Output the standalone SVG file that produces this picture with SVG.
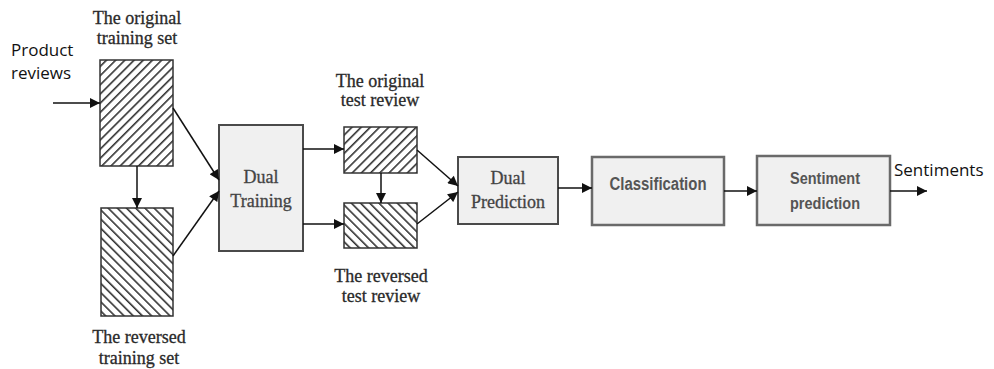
<svg xmlns="http://www.w3.org/2000/svg" width="994" height="369" viewBox="0 0 994 369">
<style>
.lbl{font-family:"Liberation Serif","Times New Roman",serif;font-size:18px;fill:#2a2a2a;stroke:#2a2a2a;stroke-width:0.3;text-anchor:middle}
.io{font-family:"Open Sans","Liberation Sans",sans-serif;font-size:17px;fill:#111}
.hat{stroke:#333;stroke-width:1.5}
.box{fill:#f0f0f0;stroke:#4a4a4a;stroke-width:2}
.box2{fill:#f0f0f0;stroke:#6a6a6a;stroke-width:2.5}
.bt{font-family:"Liberation Serif","Times New Roman",serif;font-size:18px;fill:#444;stroke:#444;stroke-width:0.3;text-anchor:middle}
.bs{font-family:"Liberation Sans",Arial,sans-serif;font-weight:bold;fill:#555;text-anchor:middle}
.con line{stroke:#111;stroke-width:1.5;marker-end:url(#ah)}
</style>
<defs>
<marker id="ah" viewBox="0 0 10 10" refX="10" refY="5" markerWidth="11" markerHeight="10" markerUnits="userSpaceOnUse" orient="auto">
<path d="M0,0 L10,5 L0,10 z" fill="#111"/>
</marker>
<pattern id="fwd" patternUnits="userSpaceOnUse" width="6.5" height="6.5" patternTransform="rotate(45)">
<rect width="6.5" height="6.5" fill="#fff"/>
<line x1="0" y1="0" x2="0" y2="6.5" stroke="#333" stroke-width="3.2"/>
</pattern>
<pattern id="bwd" patternUnits="userSpaceOnUse" width="6.5" height="6.5" patternTransform="rotate(-45)">
<rect width="6.5" height="6.5" fill="#fff"/>
<line x1="0" y1="0" x2="0" y2="6.5" stroke="#333" stroke-width="3.2"/>
</pattern>
</defs>
<rect width="994" height="369" fill="#fff"/>

<g id="product-reviews">
<text class="io" x="11" y="56">Product</text>
<text class="io" x="11" y="79">reviews</text>
</g>

<g id="orig-train">
<text class="lbl" x="137" y="24">The original</text>
<text class="lbl" x="137" y="44">training set</text>
<rect x="100" y="60" width="73" height="106" fill="url(#fwd)" class="hat"/>
</g>

<g id="rev-train">
<rect x="101" y="208" width="72" height="108" fill="url(#bwd)" class="hat"/>
<text class="lbl" x="139" y="343">The reversed</text>
<text class="lbl" x="139" y="364">training set</text>
</g>

<g id="dual-training">
<rect x="219" y="125" width="84" height="126" class="box"/>
<text class="bt" x="261" y="183">Dual</text>
<text class="bt" x="261" y="207">Training</text>
</g>

<g id="orig-test">
<text class="lbl" x="380" y="87">The original</text>
<text class="lbl" x="380" y="106">test review</text>
<rect x="344" y="127" width="73" height="46" fill="url(#fwd)" class="hat"/>
</g>

<g id="rev-test">
<rect x="344" y="203" width="73" height="45" fill="url(#bwd)" class="hat"/>
<text class="lbl" x="381" y="282">The reversed</text>
<text class="lbl" x="381" y="302">test review</text>
</g>

<g id="dual-prediction">
<rect x="458" y="157" width="100" height="67" class="box"/>
<text class="bt" x="508" y="184">Dual</text>
<text class="bt" x="508" y="208">Prediction</text>
</g>

<g id="classification">
<rect x="592" y="157" width="132" height="68" class="box2"/>
<text class="bs" x="658" y="190" font-size="18" textLength="97" lengthAdjust="spacingAndGlyphs">Classification</text>
</g>

<g id="sentiment-prediction">
<rect x="757" y="156" width="133" height="69" class="box2"/>
<text class="bs" x="825" y="184" font-size="17" textLength="70" lengthAdjust="spacingAndGlyphs">Sentiment</text>
<text class="bs" x="825" y="209" font-size="17" textLength="70" lengthAdjust="spacingAndGlyphs">prediction</text>
</g>

<g id="sentiments">
<text class="io" x="894" y="176">Sentiments</text>
</g>

<g class="con" id="connectors">
<line x1="53" y1="103" x2="100" y2="103"/>
<line x1="137" y1="166" x2="137" y2="208"/>
<line x1="173" y1="108" x2="219" y2="180"/>
<line x1="173" y1="256" x2="219" y2="191"/>
<line x1="303" y1="149" x2="344" y2="149"/>
<line x1="303" y1="224" x2="344" y2="224"/>
<line x1="381" y1="173" x2="381" y2="203"/>
<line x1="417" y1="150" x2="458" y2="186"/>
<line x1="417" y1="224" x2="458" y2="192"/>
<line x1="558" y1="188" x2="592" y2="188"/>
<line x1="724" y1="191" x2="757" y2="191"/>
<line x1="890" y1="191" x2="927" y2="191"/>
</g>
</svg>
